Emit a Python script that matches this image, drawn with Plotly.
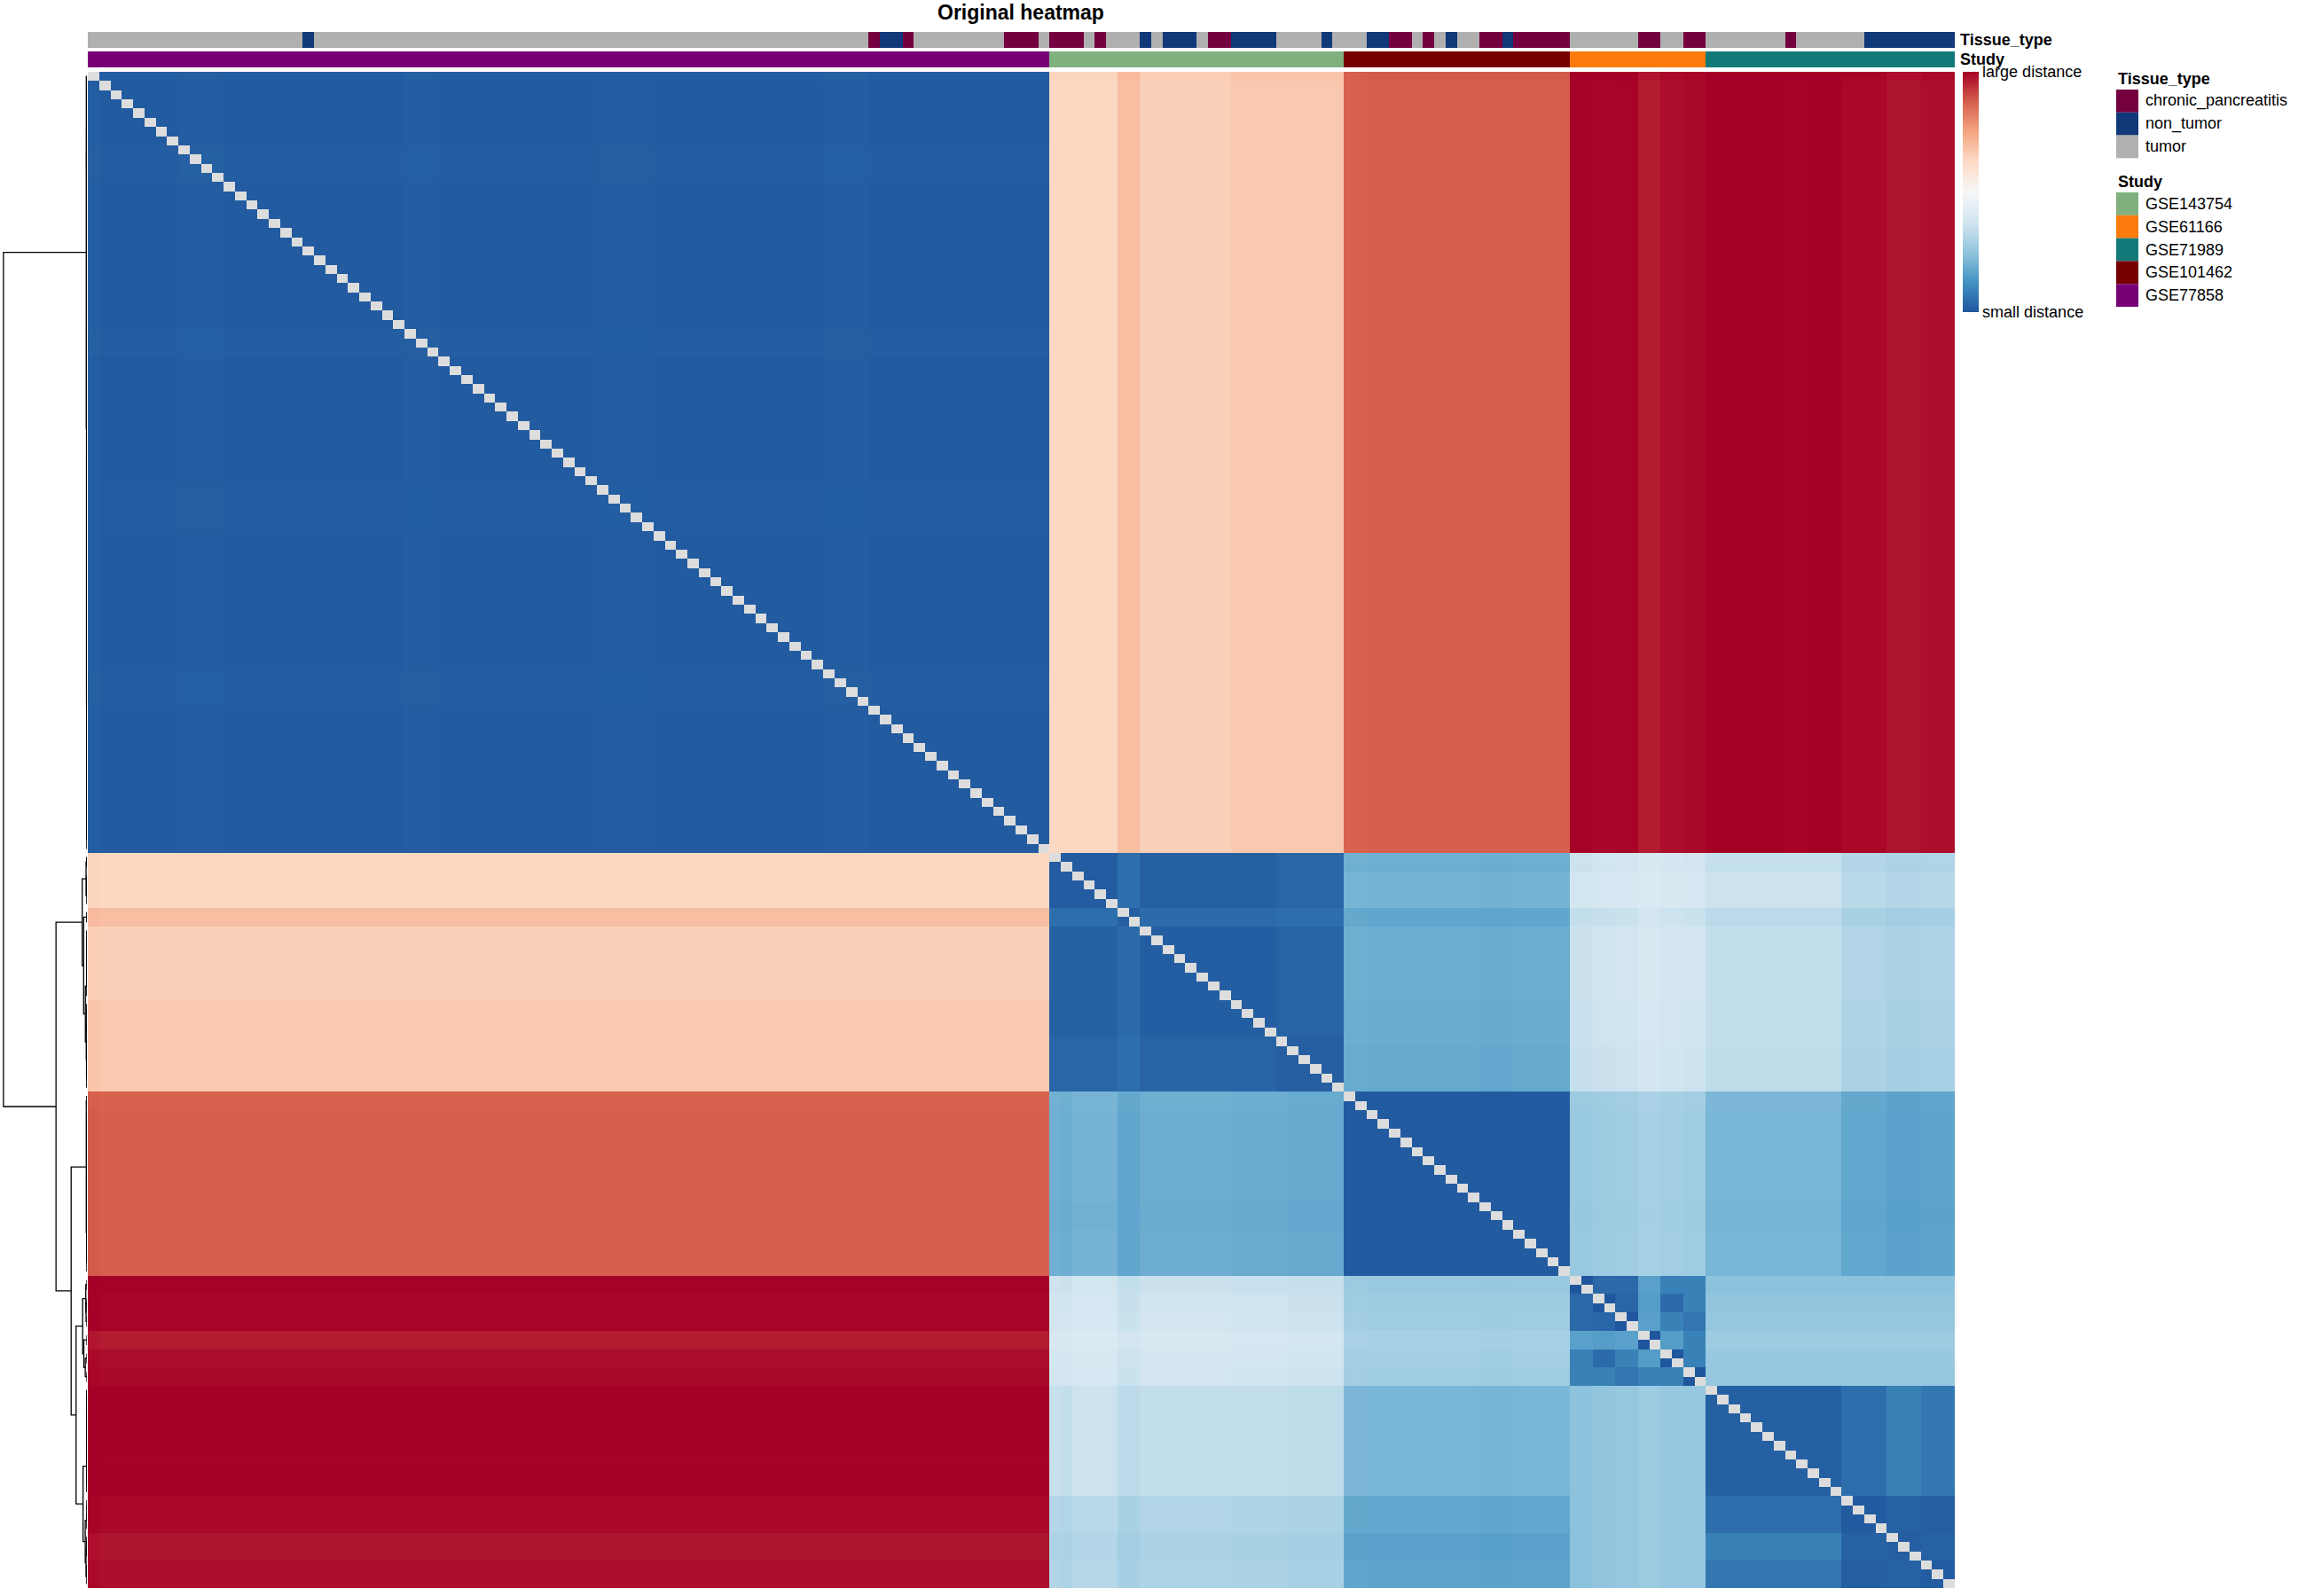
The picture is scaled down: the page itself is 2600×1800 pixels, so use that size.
import numpy as np
import plotly.graph_objects as go

W, H = 2600, 1800
FONT = "Liberation Sans, Arial, Helvetica, sans-serif"

# ---------------- annotation data ----------------
study_levels = ["GSE143754", "GSE61166", "GSE71989", "GSE101462", "GSE77858"]
study_colors = ["#7FB07D", "#FD7A0C", "#117A78", "#760000", "#770076"]
tissue_levels = ["chronic_pancreatitis", "non_tumor", "tumor"]
tissue_colors = ["#750040", "#113878", "#B0B0B0"]

# studies in display (clustered) order and their sample counts
study_blocks = ["GSE77858", "GSE143754", "GSE101462", "GSE61166", "GSE71989"]
block_sizes = [85, 26, 20, 12, 22]

# tissue type along the display order, as (label, run length)
tissue_runs = [
    ("tumor", 19), ("non_tumor", 1), ("tumor", 49),
    ("chronic_pancreatitis", 1), ("non_tumor", 2), ("chronic_pancreatitis", 1),
    ("tumor", 8), ("chronic_pancreatitis", 3), ("tumor", 1),
    ("chronic_pancreatitis", 3), ("tumor", 1), ("chronic_pancreatitis", 1),
    ("tumor", 3), ("non_tumor", 1), ("tumor", 1), ("non_tumor", 3), ("tumor", 1),
    ("chronic_pancreatitis", 2), ("non_tumor", 4), ("tumor", 4), ("non_tumor", 1),
    ("tumor", 3), ("non_tumor", 2), ("chronic_pancreatitis", 2), ("tumor", 1),
    ("chronic_pancreatitis", 1), ("tumor", 1), ("non_tumor", 1), ("tumor", 2),
    ("chronic_pancreatitis", 2), ("non_tumor", 1), ("chronic_pancreatitis", 5),
    ("tumor", 6), ("chronic_pancreatitis", 2), ("tumor", 2), ("chronic_pancreatitis", 2),
    ("tumor", 7), ("chronic_pancreatitis", 1), ("tumor", 6), ("non_tumor", 8),
]

# ---------------- distance data (scaled 0..1) ----------------
# distance of every other sample to the GSE77858 samples (top band columns)
dist_to_GSE77858 = {
    "GSE143754": [0.632] * 6 + [0.692] * 2 + [0.650] * 8 + [0.669] * 10,
    "GSE101462": [0.870, 0.872] + [0.876] * 18,
    "GSE61166": [0.998, 0.998, 0.992, 0.992, 0.995, 0.995,
                 0.965, 0.965, 0.983, 0.983, 0.987, 0.987],
    "GSE71989": [1.0] * 7 + [0.997] * 2 + [1.0] * 3 + [0.99] * 4 + [0.974] * 3 + [0.982] * 3,
}
# small per-sample deviation of GSE77858 samples toward all other studies
GSE77858_shift_to_others = [0.006] + [0.0] * 84

# typical distance between the remaining studies
between_studies = {
    ("GSE143754", "GSE101462"): 0.190,
    ("GSE143754", "GSE61166"): 0.372,
    ("GSE143754", "GSE71989"): 0.350,
    ("GSE101462", "GSE61166"): 0.272,
    ("GSE101462", "GSE71989"): 0.212,
    ("GSE61166", "GSE71989"): 0.250,
}

# per-sample deviations from the between-study level
sample_shift = {
    "GSE143754": [0.005, 0.0, 0.015, 0.015, 0.015, 0.015, -0.017, -0.017,
                  0.0, 0.0, 0.0, 0.0, 0.0, 0.0, 0.0, 0.0,
                  -0.004, -0.004, -0.004, -0.004, -0.004, -0.01, -0.01, -0.01, -0.01, -0.01],
    "GSE101462": [0.004, 0.004, 0.0, 0.0, 0.0, 0.0, 0.0, 0.0, 0.0, 0.0,
                  0.0, 0.0, -0.004, -0.004, -0.004, 0.0, 0.0, 0.0, 0.0, 0.0],
    "GSE61166": [-0.008, -0.008, 0.002, 0.002, 0.006, 0.006,
                 0.022, 0.022, 0.012, 0.012, 0.006, 0.006],
    "GSE71989": [0.0] * 12 + [-0.038] * 4 + [-0.051] * 3 + [-0.044] * 3,
}

# sub-groups inside each study and their within-study distances
within_groups = {
    "GSE77858": [1, 84],
    "GSE143754": [6, 2, 12, 6],
    "GSE101462": [20],
    "GSE61166": [2, 2, 2, 2, 2, 2],
    "GSE71989": [12, 4, 3, 3],
}
within_dist = {
    "GSE77858": [[0.0, 0.018],
                 [0.018, 0.012]],
    "GSE143754": [[0.015, 0.050, 0.022, 0.035],
                  [0.050, 0.020, 0.045, 0.050],
                  [0.022, 0.045, 0.018, 0.030],
                  [0.035, 0.050, 0.030, 0.020]],
    "GSE101462": [[0.012]],
    "GSE61166": [[0.002, 0.040, 0.040, 0.160, 0.090, 0.090],
                 [0.040, 0.002, 0.035, 0.150, 0.045, 0.090],
                 [0.040, 0.035, 0.002, 0.160, 0.090, 0.065],
                 [0.160, 0.150, 0.160, 0.002, 0.150, 0.090],
                 [0.090, 0.045, 0.090, 0.150, 0.002, 0.090],
                 [0.090, 0.090, 0.065, 0.090, 0.090, 0.002]],
    "GSE71989": [[0.022, 0.050, 0.088, 0.068],
                 [0.050, 0.012, 0.025, 0.020],
                 [0.088, 0.025, 0.020, 0.025],
                 [0.068, 0.020, 0.025, 0.015]],
}
# faint column/row texture inside the GSE77858 block
within_shift_GSE77858 = ([0.0] * 8 + [0.005] * 4 + [0.0] * 16 + [0.004] * 3 + [0.0] * 14
                         + [0.003] * 5 + [0.0] * 15 + [0.004] * 4 + [0.0] * 16)

# ---------------- build the matrix ----------------
study_of = []
for s, n in zip(study_blocks, block_sizes):
    study_of += [s] * n
N = len(study_of)
tissue_of = []
for t, n in tissue_runs:
    tissue_of += [t] * n

sub_of = []
for s in study_blocks:
    for g, n in enumerate(within_groups[s]):
        sub_of += [g] * n

pos_in_block = []
for n in block_sizes:
    pos_in_block += list(range(n))

wshift = np.zeros(N)
wshift[:85] = within_shift_GSE77858


def bkey(a, b):
    return (a, b) if (a, b) in between_studies else (b, a)


D = np.zeros((N, N))
for i in range(N):
    si = study_of[i]
    for j in range(N):
        sj = study_of[j]
        if si == sj:
            v = within_dist[si][sub_of[i]][sub_of[j]] + wshift[i] + wshift[j]
        elif si == "GSE77858":
            v = dist_to_GSE77858[sj][pos_in_block[j]] + GSE77858_shift_to_others[pos_in_block[i]]
        elif sj == "GSE77858":
            v = dist_to_GSE77858[si][pos_in_block[i]] + GSE77858_shift_to_others[pos_in_block[j]]
        else:
            oi = sample_shift[si][pos_in_block[i]]
            oj = sample_shift[sj][pos_in_block[j]]
            if {si, sj} == {"GSE61166", "GSE71989"}:
                if si == "GSE71989":
                    oi = 0.0
                else:
                    oj = 0.0
            v = between_studies[bkey(si, sj)] + oi + oj
        D[i, j] = v
np.fill_diagonal(D, 0.0)

# ---------------- row dendrogram (adjacency-constrained complete linkage) ----------------
rowdist = np.sqrt(((D[:, None, :] - D[None, :, :]) ** 2).sum(axis=2))
nodes = [{"leaves": [i], "h": 0.0, "y": float(i), "ch": None} for i in range(N)]
current = list(range(N))
while len(current) > 1:
    best = None
    for k in range(len(current) - 1):
        a, b = nodes[current[k]], nodes[current[k + 1]]
        d = rowdist[np.ix_(a["leaves"], b["leaves"])].max()
        if best is None or d < best[0]:
            best = (d, k)
    d, k = best
    a, b = nodes[current[k]], nodes[current[k + 1]]
    nodes.append({"leaves": a["leaves"] + b["leaves"], "h": float(d),
                  "y": (a["y"] + b["y"]) / 2.0, "ch": (current[k], current[k + 1])})
    current[k:k + 2] = [len(nodes) - 1]

dx, dy = [], []
for nd in nodes:
    if nd["ch"] is None:
        continue
    c1, c2 = nodes[nd["ch"][0]], nodes[nd["ch"][1]]
    dx += [c1["h"], nd["h"], nd["h"], c2["h"], None]
    dy += [c1["y"], c1["y"], c2["y"], c2["y"], None]
root_h = nodes[-1]["h"]

# ---------------- figure ----------------
Mplot = D.copy()
np.fill_diagonal(Mplot, np.nan)
diag = np.full((N, N), np.nan)
np.fill_diagonal(diag, 1.0)
idx = list(range(N))

colorscale = [
    [0.0, "#1F559C"], [0.125, "#4393C3"], [0.25, "#92C5DE"], [0.375, "#D1E5F0"],
    [0.5, "#F7F7F7"], [0.625, "#FDDBC7"], [0.75, "#F4A582"], [0.875, "#D6604D"],
    [1.0, "#A50026"],
]


def discrete_scale(colors):
    k = len(colors)
    sc = []
    for i, c in enumerate(colors):
        sc.append([i / k, c])
        sc.append([(i + 1) / k, c])
    return sc


tissue_codes = [tissue_levels.index(t) for t in tissue_of]
study_codes = [study_levels.index(s) for s in study_of]

fig = go.Figure()
fig.add_trace(go.Heatmap(
    z=Mplot, x=idx, y=idx, xaxis="x", yaxis="y", colorscale=colorscale,
    zmin=0, zmax=1, hoverinfo="skip",
    colorbar=dict(x=2213 / W, xanchor="left", y=1 - 81 / H, yanchor="top",
                  len=271, lenmode="pixels", thickness=18, thicknessmode="pixels",
                  outlinewidth=0, tickvals=[0, 1], ticktext=["small distance", "large distance"],
                  ticks="", tickfont=dict(size=18, family=FONT, color="black"),
                  xpad=0, ypad=0),
))
fig.add_trace(go.Heatmap(
    z=diag, x=idx, y=idx, xaxis="x", yaxis="y",
    colorscale=[[0, "#DDDDDD"], [1, "#DDDDDD"]], zmin=0, zmax=1,
    showscale=False, hoverinfo="skip"))
fig.add_trace(go.Heatmap(
    z=[tissue_codes], x=idx, y=[0], xaxis="x", yaxis="y2",
    colorscale=discrete_scale(tissue_colors), zmin=-0.5, zmax=len(tissue_levels) - 0.5,
    showscale=False, hoverinfo="skip"))
fig.add_trace(go.Heatmap(
    z=[study_codes], x=idx, y=[0], xaxis="x", yaxis="y3",
    colorscale=discrete_scale(study_colors), zmin=-0.5, zmax=len(study_levels) - 0.5,
    showscale=False, hoverinfo="skip"))
fig.add_trace(go.Scatter(
    x=dx, y=dy, mode="lines", xaxis="x2", yaxis="y",
    line=dict(color="black", width=1.3), hoverinfo="skip", showlegend=False))

hidden = dict(visible=False, showgrid=False, zeroline=False, fixedrange=True)
fig.update_layout(
    width=W, height=H, autosize=False,
    margin=dict(l=0, r=0, t=0, b=0),
    paper_bgcolor="white", plot_bgcolor="white",
    showlegend=False,
    font=dict(family=FONT, color="black"),
    xaxis=dict(domain=[99 / W, 2204 / W], range=[-0.5, N - 0.5], anchor="y", **hidden),
    yaxis=dict(domain=[1 - 1791 / H, 1 - 81 / H], range=[N - 0.5, -0.5], anchor="x", **hidden),
    xaxis2=dict(domain=[2 / W, 98 / W], range=[root_h * 1.02, 0], anchor="y", **hidden),
    yaxis2=dict(domain=[1 - 54 / H, 1 - 36 / H], range=[0.5, -0.5], anchor="x", **hidden),
    yaxis3=dict(domain=[1 - 76 / H, 1 - 58 / H], range=[0.5, -0.5], anchor="x", **hidden),
)

ann = []
shapes = []
ann.append(dict(text="<b>Original heatmap</b>", x=1151 / W, y=1 - 14 / H, xref="paper", yref="paper",
                xanchor="center", yanchor="middle", showarrow=False, font=dict(size=23, family=FONT)))
ann.append(dict(text="<b>Tissue_type</b>", x=2208 / W, y=1 - 45 / H, xref="paper", yref="paper",
                xanchor="left", yanchor="middle", showarrow=False, font=dict(size=18, family=FONT)))
ann.append(dict(text="<b>Study</b>", x=2208 / W, y=1 - 67 / H, xref="paper", yref="paper",
                xanchor="left", yanchor="middle", showarrow=False, font=dict(size=18, family=FONT)))

box_x0, box_x1, label_x = 2386, 2411, 2417
box_h = 25.8


def legend_block(title, labels, colors, title_y, top):
    ann.append(dict(text="<b>%s</b>" % title, x=box_x0 / W, y=1 - title_y / H, xref="paper", yref="paper",
                    xanchor="left", yanchor="middle", showarrow=False, font=dict(size=18, family=FONT)))
    for k, (lab, col) in enumerate(zip(labels, colors)):
        y0 = top + k * box_h
        shapes.append(dict(type="rect", xref="paper", yref="paper", x0=box_x0 / W, x1=box_x1 / W,
                           y0=1 - (y0 + box_h) / H, y1=1 - y0 / H, fillcolor=col, line=dict(width=0)))
        ann.append(dict(text=lab, x=label_x / W, y=1 - (y0 + box_h / 2) / H, xref="paper", yref="paper",
                        xanchor="left", yanchor="middle", showarrow=False, font=dict(size=18, family=FONT)))


legend_block("Tissue_type", tissue_levels, tissue_colors, 89, 101)
legend_block("Study", study_levels, study_colors, 205, 217)

fig.update_layout(annotations=ann, shapes=shapes)
fig.write_html("out.html", config={"displayModeBar": False},
               post_script="document.body.style.margin='0px';document.body.style.overflow='hidden';")
